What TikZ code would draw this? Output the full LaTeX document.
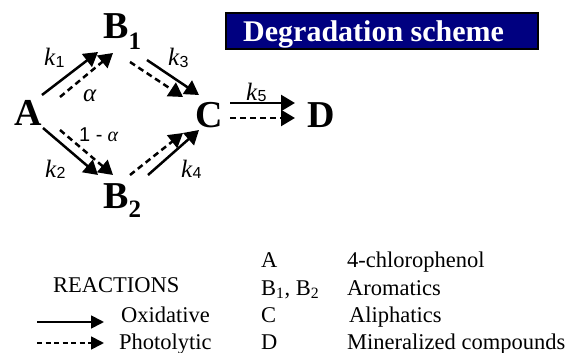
\documentclass[tikz,border=0pt]{standalone}
\usepackage{fontspec}
\setmainfont{Liberation Serif}
\newfontfamily\arialf{Liberation Sans}
\usetikzlibrary{arrows.meta}
\definecolor{navyfill}{RGB}{0,0,128}
\begin{document}
\begin{tikzpicture}[x=1pt,y=-1pt,
  big/.style={font=\fontsize{38}{38}\selectfont\bfseries, inner sep=0pt, anchor=base west},
  klab/.style={font=\fontsize{25}{25}\selectfont, inner sep=0pt, anchor=base west},
  leg/.style={font=\fontsize{22.5}{22.5}\selectfont, inner sep=0pt, anchor=base west},
  oxi/.style={line width=2.5pt, -{Triangle[length=14pt,width=16pt]}},
  pho/.style={oxi, dash pattern=on 6pt off 4pt},
  legoxi/.style={line width=1.8pt, -{Triangle[length=13pt,width=13pt]}},
  legpho/.style={legoxi, dash pattern=on 5pt off 3.5pt}
]
\useasboundingbox (0,0) rectangle (571,353);
\newcommand{\kk}[1]{\textit{k}\raisebox{-1.5pt}{\arialf\fontsize{16}{16}\selectfont #1}}

% species
\node[big] (A) at (14,125) {A};
\node[big] (B1) at (103,39) {B\raisebox{-11pt}{\fontsize{25}{25}\selectfont 1}};
\node[big] (B2) at (103,208) {B\raisebox{-9pt}{\fontsize{25}{25}\selectfont 2}};
\node[big] (C) at (195,128) {C};
\node[big] (D) at (307,128) {D};

% arrow end points
\coordinate (a1s) at (42,95);  \coordinate (a1e) at (98,52);
\coordinate (a1ds) at (60,97); \coordinate (a1de) at (113,53);
\coordinate (a2s) at (43,128); \coordinate (a2e) at (98,175);
\coordinate (a2ds) at (60,130);\coordinate (a2de) at (113,175);
\coordinate (b1ds) at (130,62);\coordinate (b1de) at (183,97);
\coordinate (b1s) at (147,60); \coordinate (b1e) at (199,95);
\coordinate (b2ds) at (130,175);\coordinate (b2de) at (183,133);
\coordinate (b2s) at (148,175);\coordinate (b2e) at (199,130);
\coordinate (cs) at (230,103); \coordinate (ce) at (295,103);
\coordinate (cds) at (230,118);\coordinate (cde) at (295,118);

\draw[oxi] (a1s) -- (a1e);
\draw[pho] (a1ds) -- (a1de);
\draw[oxi] (a2s) -- (a2e);
\draw[pho] (a2ds) -- (a2de);
\draw[pho] (b1ds) -- (b1de);
\draw[oxi] (b1s) -- (b1e);
\draw[pho] (b2ds) -- (b2de);
\draw[oxi] (b2s) -- (b2e);
\draw[oxi] (cs) -- (ce);
\draw[pho] (cds) -- (cde);

% rate labels
\node[klab] (k1) at (44,66) {\kk{1}};
\node[klab] (k2) at (45,177) {\kk{2}};
\node[klab] (k3) at (168,66) {\kk{3}};
\node[klab] (k4) at (181,177) {\kk{4}};
\node[klab] (k5) at (246,100) {\kk{5}};
\node[klab] (al) at (83,102) {\textit{α}};
\node[klab, font=\fontsize{20}{20}\selectfont] (oma) at (79,142) {{\arialf 1 -} \textit{α}};

% title
\fill[gray!45] (227,14) rectangle (539,50);
\node[draw=black, line width=2pt, fill=navyfill, minimum width=312pt, minimum height=36pt, anchor=north west, inner sep=0pt] (title) at (225,12) {};
\node[font=\fontsize{30}{30}\selectfont\bfseries, text=white, inner sep=0pt, anchor=base west] (tt) at (243,42) {Degradation scheme};

% legend
\node[leg] (rx) at (53,292) {REACTIONS};
\coordinate (ls1) at (37,322); \coordinate (le1) at (104,322);
\coordinate (ls2) at (37,343); \coordinate (le2) at (104,343);
\draw[legoxi] (ls1) -- (le1);
\draw[legpho] (ls2) -- (le2);
\node[leg] (ox) at (121,322) {Oxidative};
\node[leg] (ph) at (119,349) {Photolytic};

\node[leg] (lA) at (261,267) {A};
\node[leg] (lB) at (261,295) {B\textsubscript{1}, B\textsubscript{2}};
\node[leg] (lC) at (261,322) {C};
\node[leg] (lD) at (261,349) {D};
\node[leg] (nA) at (347,267) {4-chlorophenol};
\node[leg] (nB) at (347,295) {Aromatics};
\node[leg] (nC) at (349,322) {Aliphatics};
\node[leg] (nD) at (347,349) {Mineralized compounds};
\end{tikzpicture}
\end{document}
